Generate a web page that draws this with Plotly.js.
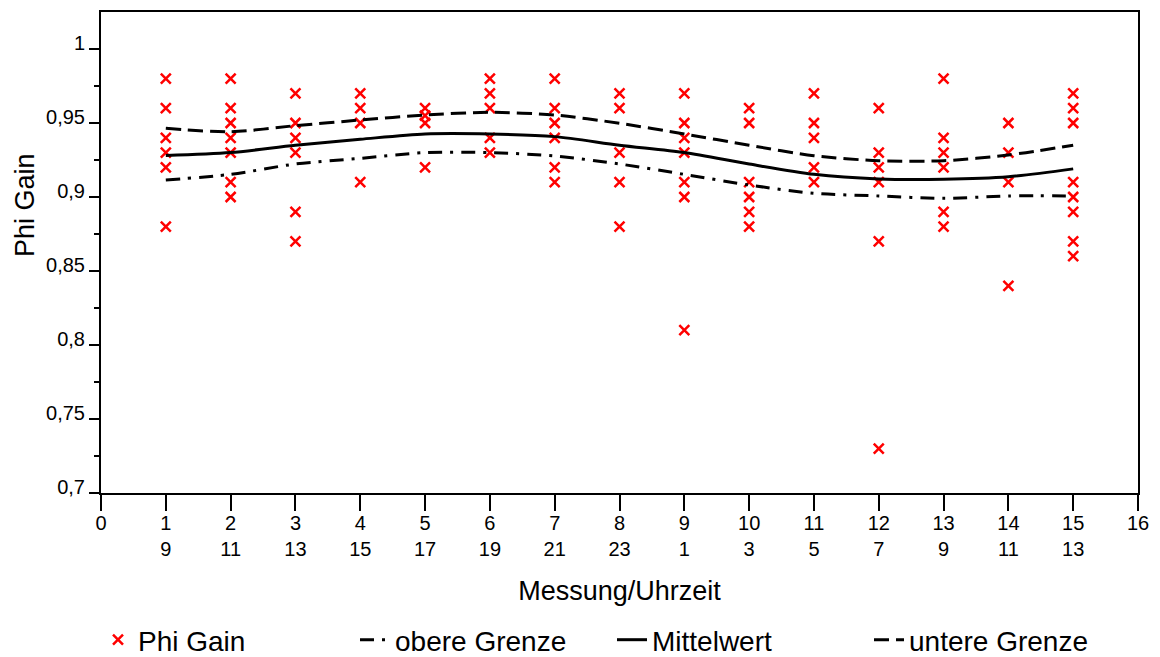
<!DOCTYPE html>
<html>
<head>
<meta charset="utf-8">
<script src="https://cdn.plot.ly/plotly-3.0.1.min.js"></script>
<style>html,body{margin:0;padding:0;background:#fff;}#chart{width:1160px;height:657px;}</style>
</head>
<body>
<div id="chart"></div>
<script>
// Messung index (x axis)
const messung = [1,2,3,4,5,6,7,8,9,10,11,12,13,14,15];
// Tick labels: Messung / Uhrzeit
const tickValues = [0,1,2,3,4,5,6,7,8,9,10,11,12,13,14,15,16];
const tickMessung = ["0","1","2","3","4","5","6","7","8","9","10","11","12","13","14","15","16"];
const tickUhrzeit = ["","9","11","13","15","17","19","21","23","1","3","5","7","9","11","13",""];

// Phi Gain measured values per Messung
const phiGain1  = [0.98,0.96,0.94,0.93,0.92,0.88];
const phiGain2  = [0.98,0.96,0.95,0.94,0.93,0.91,0.90];
const phiGain3  = [0.97,0.95,0.94,0.93,0.89,0.87];
const phiGain4  = [0.97,0.96,0.95,0.91];
const phiGain5  = [0.96,0.955,0.95,0.92];
const phiGain6  = [0.98,0.97,0.96,0.94,0.93];
const phiGain7  = [0.98,0.96,0.95,0.94,0.92,0.91];
const phiGain8  = [0.97,0.96,0.93,0.91,0.88];
const phiGain9  = [0.97,0.95,0.94,0.93,0.91,0.90,0.81];
const phiGain10 = [0.96,0.95,0.91,0.90,0.89,0.88];
const phiGain11 = [0.97,0.95,0.94,0.92,0.91];
const phiGain12 = [0.96,0.93,0.92,0.91,0.87,0.73];
const phiGain13 = [0.98,0.94,0.93,0.92,0.89,0.88];
const phiGain14 = [0.95,0.93,0.91,0.84];
const phiGain15 = [0.97,0.96,0.95,0.91,0.90,0.89,0.87,0.86];

// Lines
const obereGrenze = [0.9115,0.9153,0.9223,0.9261,0.930,0.930,0.9277,0.9223,0.9153,0.9081,0.9025,0.9007,0.8991,0.9007,0.9007];
const mittelwert  = [0.928,0.930,0.935,0.939,0.9426,0.9426,0.9408,0.935,0.930,0.9223,0.9153,0.9122,0.912,0.9137,0.919];
const untereGrenze= [0.9464,0.9441,0.9482,0.952,0.9554,0.9572,0.9554,0.9498,0.9426,0.935,0.9279,0.9245,0.9245,0.9284,0.935];

const yTickValues = [0.7,0.75,0.8,0.85,0.9,0.95,1];
const yTickLabels = ["0,7","0,75","0,8","0,85","0,9","0,95","1"];

const phiGainGroups = [phiGain1,phiGain2,phiGain3,phiGain4,phiGain5,phiGain6,phiGain7,phiGain8,phiGain9,phiGain10,phiGain11,phiGain12,phiGain13,phiGain14,phiGain15];
const px = [], py = [];
phiGainGroups.forEach((g,i)=>g.forEach(v=>{px.push(messung[i]);py.push(v);}));

const FONT = "Liberation Sans, Arial, Helvetica, sans-serif";

const traces = [
  {x:px, y:py, type:'scatter', mode:'markers', name:'Phi Gain',
   marker:{symbol:'x-thin', size:10, line:{color:'#ff0000', width:2.5}, color:'#ff0000'}},
  {x:messung, y:obereGrenze, type:'scatter', mode:'lines', name:'obere Grenze',
   line:{color:'#000', width:3, dash:'14px,8px,3px,8px', shape:'spline', smoothing:0.8}},
  {x:messung, y:mittelwert, type:'scatter', mode:'lines', name:'Mittelwert',
   line:{color:'#000', width:3, shape:'spline', smoothing:0.8}},
  {x:messung, y:untereGrenze, type:'scatter', mode:'lines', name:'untere Grenze',
   line:{color:'#000', width:3, dash:'15px,7px', shape:'spline', smoothing:0.8}}
];

const layout = {
  width:1160, height:657,
  margin:{l:101, r:22, t:12, b:164, pad:0, autoexpand:false},
  paper_bgcolor:'#fff', plot_bgcolor:'#fff',
  font:{family:FONT, color:'#000', size:20},
  showlegend:true,
  legend:{orientation:'h', xref:'container', x:98/1160, xanchor:'left',
          yref:'container', y:(657-640)/657, yanchor:'middle',
          entrywidth:212, entrywidthmode:'pixels',
          font:{family:FONT, size:28, color:'#000'}, bgcolor:'rgba(0,0,0,0)'},
  xaxis:{
    range:[0,16], tickmode:'array', tickvals:tickValues,
    ticktext:tickValues.map((v,i)=> tickUhrzeit[i] ? tickMessung[i]+'<br>'+tickUhrzeit[i] : tickMessung[i]),
    ticks:'outside', ticklen:16, tickwidth:2, tickcolor:'#000',
    ticklabelstandoff:-5,
    showline:true, linecolor:'#000', linewidth:2, mirror:true,
    showgrid:false, zeroline:false, automargin:true,
    tickfont:{family:FONT, size:20, color:'#000'},
    title:{text:'Messung/Uhrzeit', font:{family:FONT, size:27, color:'#000'}, standoff:22}
  },
  yaxis:{
    range:[0.7,1.025], tickmode:'array', tickvals:yTickValues, ticktext:yTickLabels,
    ticks:'outside', ticklen:10, tickwidth:2, tickcolor:'#000',
    minor:{tickmode:'array', tickvals:[0.725,0.775,0.825,0.875,0.925,0.975], ticks:'outside', ticklen:5, tickwidth:2, tickcolor:'#000', showgrid:false},
    showline:true, linecolor:'#000', linewidth:2, mirror:true,
    showgrid:false, zeroline:false, automargin:false,
    tickfont:{family:FONT, size:20, color:'#000'},
    ticklabelshift:-6
  },
  annotations:[
    {text:'Phi Gain', xref:'paper', yref:'paper', x:(25-101)/1037, y:(493-205)/481,
     xanchor:'center', yanchor:'middle', textangle:-90, showarrow:false,
     font:{family:FONT, size:27, color:'#000'}}
  ]
};

Plotly.newPlot('chart', traces, layout, {displayModeBar:false, staticPlot:true});
</script>
</body>
</html>
